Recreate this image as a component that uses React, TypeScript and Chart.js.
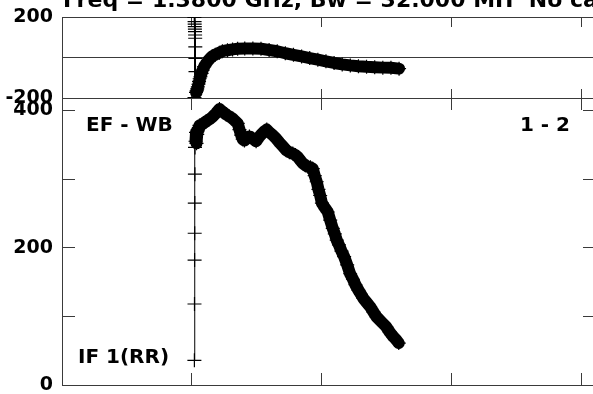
import React, { useEffect, useRef } from 'react';
import { Chart, registerables } from 'chart.js';

Chart.register(...registerables);

// ---- text ----
const TITLE = 'Freq = 1.3800 GHz, Bw = 32.000 MH  No calibration';
const BASELINE_LABEL = 'EF - WB';
const PANEL_LABEL = '1 - 2';
const POL_LABEL = 'IF 1(RR)';

// ---- axes ----
const channelTicks = [-128, 0, 128, 256, 384];
const channelMin = -128;
const channelMax = 397;
const phaseTicks = [-200, 0, 200];
const phaseTickLabels = ['-200', '', '200'];
const ampTicks = [0, 100, 200, 300, 400];
const ampTickLabels = ['0', '', '200', '', '400'];
const ampMax = 418;

// ---- amplitude series (channel, amplitude) ----
const ampChannels = [
  2.4, 2.5, 2.6, 2.7, 2.8, 2.9, 3.0,
  3.5, 4.0, 4.5, 5.2, 6.0, 6.8,
  7.4, 10.3, 14, 17.2, 20.5, 23.8, 27.1, 30.3, 33.7, 36.9, 40.2, 42.8, 45.1,
  46.8, 48.5, 50, 51.7, 54.2, 56.6, 59.9, 63.2, 65.5, 68.2, 70.9, 73.7, 76.3,
  79.6, 82.9, 86.2, 89.4, 92.8, 96, 99.3, 101.9, 104.2, 106.9, 109.1, 111.7,
  114.1, 116.7, 119, 120.9, 122.9, 124.6, 126.3, 128, 130, 132, 133.8, 136.2,
  138.7, 140.7, 142.6, 144.8, 147.3, 149.9, 152.9, 155.8, 158.6, 161, 164,
  166.5, 168.9, 172.2, 175.5, 178.8, 182, 186.6, 191.3, 194.8, 198.5, 201.1, 203.7,
];
const ampValues = [
  36, 118, 182, 221, 265, 307, 346,
  355, 368, 352, 365, 372, 375,
  378, 380, 384, 387, 391, 396, 402, 398, 394, 391, 388, 384, 381,
  372, 364, 358, 356, 360, 362, 359, 355, 360, 365, 369, 372, 368,
  364, 359, 353, 348, 342, 339, 337, 335, 332, 327, 323, 320,
  318, 317, 315, 305, 296, 285, 276, 265, 260, 256, 252, 240,
  228, 220, 211, 204, 195, 187, 175, 162, 154, 146, 138,
  132, 126, 120, 114, 106, 99, 92, 85, 77, 70, 66, 61,
];
const AMP_EDGE_POINTS = 7;

// ---- phase series (channel, phase in degrees) ----
const phaseChannels = [
  2.4, 2.5, 2.6, 2.7, 2.8, 2.9, 3.0, 3.1, 3.2, 3.3, 3.4, 3.5,
  4, 4.6, 5.2, 5.8, 6.4, 7, 7.6, 8.4, 9.5, 10.5, 12, 14, 16, 18, 20, 23, 27,
  30, 35, 40, 45, 52, 60, 68, 76, 84, 92, 100, 108, 116, 124, 132, 140, 148,
  156, 164, 172, 180, 188, 196, 204,
];
const phaseValues = [
  198, -198, 177, 165, 152, 140, 128, 111, 95, 52, -4, -70,
  -172, -165, -155, -145, -132, -118, -105, -95, -78, -62, -45, -29, -15, -4, 6, 14, 24,
  31, 36, 40, 43, 45, 45, 43, 37, 31, 21, 13, 5, -3, -11, -19, -27, -34,
  -39, -43, -46, -48, -50, -51, -55,
];
const PHASE_EDGE_POINTS = 12;

const FONT_FAMILY = '"DejaVu Sans", sans-serif';
const AXIS_COLOR = '#3a3a3a';

function xScale(position: 'top' | 'bottom', tickLength: number) {
  return {
    type: 'linear' as const,
    position,
    min: channelMin,
    max: channelMax,
    afterBuildTicks: (s: any) => {
      s.ticks = channelTicks.map((v) => ({ value: v }));
    },
    afterFit: (s: any) => {
      s.height = 0;
      s.paddingLeft = 0;
      s.paddingRight = 0;
    },
    ticks: { display: false },
    grid: {
      drawOnChartArea: false,
      drawTicks: true,
      tickLength,
      tickColor: AXIS_COLOR,
      tickWidth: 1,
    },
    border: { display: true, color: AXIS_COLOR, width: 1 },
  };
}

function seriesDataset(xs: number[], ys: number[], edgeCount: number) {
  return {
    data: xs.map((x, i) => ({ x, y: ys[i] })),
    borderColor: '#000',
    backgroundColor: '#000',
    borderWidth: 1,
    pointStyle: 'cross' as const,
    pointRadius: 7,
    pointBorderColor: '#000',
    pointBorderWidth: 1.2,
    pointHoverRadius: 7,
    borderJoinStyle: 'round' as const,
    borderCapStyle: 'round' as const,
    tension: 0,
    fill: false,
    segment: {
      borderWidth: (ctx: any) => (ctx.p0DataIndex >= edgeCount ? 12 : 1),
    },
  };
}

const titlePlugin = {
  id: 'posTitle',
  afterDraw(chart: any) {
    const { ctx, chartArea } = chart;
    ctx.save();
    ctx.fillStyle = '#000';
    ctx.font = `bold 22px ${FONT_FAMILY}`;
    ctx.textAlign = 'left';
    ctx.textBaseline = 'alphabetic';
    ctx.fillText(TITLE, chartArea.left + 1, chartArea.top - 10);
    ctx.restore();
  },
};

const panelLabelsPlugin = {
  id: 'panelLabels',
  afterDraw(chart: any) {
    const { ctx, chartArea } = chart;
    ctx.save();
    ctx.fillStyle = '#000';
    ctx.font = `bold 20px ${FONT_FAMILY}`;
    ctx.textBaseline = 'alphabetic';
    ctx.textAlign = 'left';
    ctx.fillText(BASELINE_LABEL, chartArea.left + 24, chartArea.top + 33);
    ctx.fillText(POL_LABEL, chartArea.left + 16, chartArea.bottom - 22);
    ctx.textAlign = 'right';
    ctx.fillText(PANEL_LABEL, chartArea.right - 25, chartArea.top + 33);
    ctx.restore();
  },
};

const CANVAS_W = 610;
const CANVAS_H = 394;

export default function App() {
  const topRef = useRef<HTMLCanvasElement>(null);
  const botRef = useRef<HTMLCanvasElement>(null);

  useEffect(() => {
    const tickFont = { family: FONT_FAMILY, weight: 'bold' as const, size: 19 };

    const phaseChart = new Chart(topRef.current as HTMLCanvasElement, {
      type: 'line',
      data: {
        datasets: [
          { ...seriesDataset(phaseChannels, phaseValues, PHASE_EDGE_POINTS), xAxisID: 'x', yAxisID: 'y' } as any,
        ],
      },
      options: {
        responsive: false,
        animation: false,
        devicePixelRatio: 1,
        events: [],
        layout: { padding: { left: 0, right: CANVAS_W - 595, top: 17, bottom: CANVAS_H - 98 } },
        plugins: { legend: { display: false }, tooltip: { enabled: false }, title: { display: false } },
        scales: {
          x: xScale('bottom', -9) as any,
          xTop: xScale('top', -10) as any,
          y: {
            type: 'linear',
            position: 'left',
            min: -200,
            max: 200,
            afterBuildTicks: (s: any) => {
              s.ticks = phaseTicks.map((v) => ({ value: v }));
            },
            afterFit: (s: any) => {
              s.width = 62;
              s.paddingTop = 0;
              s.paddingBottom = 0;
            },
            ticks: {
              autoSkip: false,
              padding: 9,
              color: '#000',
              font: tickFont,
              callback: (_v: any, i: number) => phaseTickLabels[i],
            },
            grid: {
              drawOnChartArea: true,
              drawTicks: false,
              lineWidth: 1,
              color: (ctx: any) => (ctx.tick && ctx.tick.value === 0 ? AXIS_COLOR : 'rgba(0,0,0,0)'),
            },
            border: { display: true, color: AXIS_COLOR, width: 1 },
          } as any,
        },
      },
      plugins: [titlePlugin],
    });

    const ampChart = new Chart(botRef.current as HTMLCanvasElement, {
      type: 'line',
      data: {
        datasets: [
          { ...seriesDataset(ampChannels, ampValues, AMP_EDGE_POINTS), xAxisID: 'x', yAxisID: 'y' } as any,
        ],
      },
      options: {
        responsive: false,
        animation: false,
        devicePixelRatio: 1,
        events: [],
        layout: { padding: { left: 0, right: CANVAS_W - 595, top: 98, bottom: CANVAS_H - 385 } },
        plugins: { legend: { display: false }, tooltip: { enabled: false }, title: { display: false } },
        scales: {
          x: xScale('bottom', -12) as any,
          xTop: xScale('top', -12) as any,
          y: {
            type: 'linear',
            position: 'left',
            min: 0,
            max: ampMax,
            afterBuildTicks: (s: any) => {
              s.ticks = ampTicks.map((v) => ({ value: v }));
            },
            afterFit: (s: any) => {
              s.width = 62;
              s.paddingTop = 0;
              s.paddingBottom = 0;
            },
            ticks: {
              autoSkip: false,
              padding: 22,
              color: '#000',
              font: tickFont,
              callback: (_v: any, i: number) => ampTickLabels[i],
            },
            grid: {
              drawOnChartArea: false,
              drawTicks: true,
              tickLength: -13,
              tickColor: AXIS_COLOR,
              tickWidth: 1,
            },
            border: { display: true, color: AXIS_COLOR, width: 1 },
          } as any,
          yRight: {
            type: 'linear',
            position: 'right',
            min: 0,
            max: ampMax,
            afterBuildTicks: (s: any) => {
              s.ticks = ampTicks.map((v) => ({ value: v }));
            },
            afterFit: (s: any) => {
              s.width = 0;
              s.paddingTop = 0;
              s.paddingBottom = 0;
            },
            ticks: { display: false },
            grid: {
              drawOnChartArea: false,
              drawTicks: true,
              tickLength: -12,
              tickColor: AXIS_COLOR,
              tickWidth: 1,
            },
            border: { display: true, color: AXIS_COLOR, width: 1 },
          } as any,
        },
      },
      plugins: [panelLabelsPlugin],
    });

    return () => {
      phaseChart.destroy();
      ampChart.destroy();
    };
  }, []);

  return (
    <div
      style={{
        position: 'fixed',
        left: 0,
        top: 0,
        width: 593,
        height: 394,
        overflow: 'hidden',
        background: '#fff',
      }}
    >
      <canvas ref={topRef} width={CANVAS_W} height={CANVAS_H} style={{ position: 'absolute', left: 0, top: 0 }} />
      <canvas ref={botRef} width={CANVAS_W} height={CANVAS_H} style={{ position: 'absolute', left: 0, top: 0 }} />
    </div>
  );
}
